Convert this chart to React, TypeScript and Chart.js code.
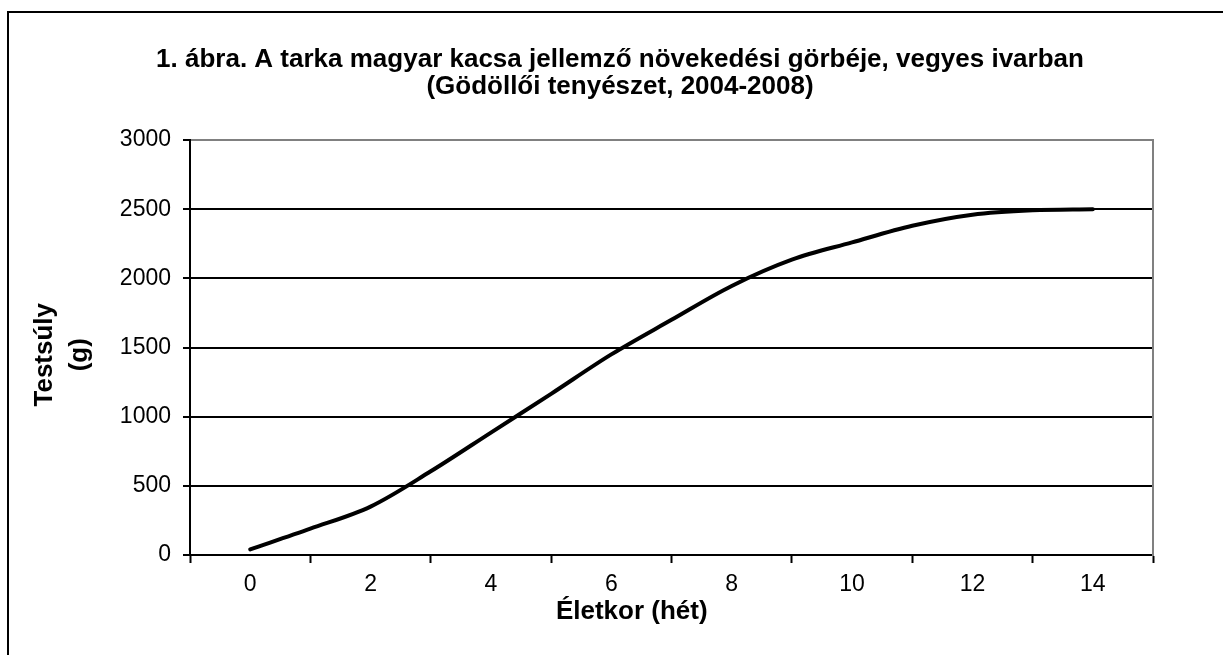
import React, { useEffect, useRef } from 'react';
import { Chart, registerables } from 'chart.js';

Chart.register(...registerables);

// ---- Data ----
const TITLE_LINES = [
  '1. ábra. A tarka magyar kacsa jellemző növekedési görbéje, vegyes ivarban',
  '(Gödöllői tenyészet, 2004-2008)',
];
const X_TITLE = 'Életkor (hét)';
const Y_TITLE = ['Testsúly', '(g)'];

const WEEKS = [0, 1, 2, 3, 4, 5, 6, 7, 8, 9, 10, 11, 12, 13, 14];
const WEIGHTS = [40, 190, 350, 605, 885, 1165, 1450, 1700, 1945, 2135, 2260, 2380, 2460, 2492, 2500];

const X_MIN = -1;
const X_MAX = 15;
const X_LABEL_VALUES = [0, 2, 4, 6, 8, 10, 12, 14];
const X_TICK_MARK_VALUES = [-1, 1, 3, 5, 7, 9, 11, 13, 15];

const Y_MIN = 0;
const Y_MAX = 3000;
const Y_STEP = 500;

const FONT_FAMILY = "'Liberation Sans', Arial, Helvetica, sans-serif";

const framePlugin = {
  id: 'outerFrame',
  beforeDraw(chart: any) {
    const ctx = chart.ctx;
    ctx.save();
    ctx.strokeStyle = '#000';
    ctx.lineWidth = 2;
    ctx.strokeRect(8, 12, 3000, 3000);
    ctx.restore();
  },
};

export default function App() {
  const canvasRef = useRef<HTMLCanvasElement | null>(null);

  useEffect(() => {
    if (!canvasRef.current) return;
    const chart = new Chart(canvasRef.current, {
      type: 'line',
      data: {
        datasets: [
          {
            label: 'Testsúly',
            data: WEEKS.map((w, i) => ({ x: w, y: WEIGHTS[i] })),
            borderColor: '#000',
            backgroundColor: '#000',
            borderWidth: 4,
            pointRadius: 0,
            tension: 0.33,
            fill: false,
            borderCapStyle: 'round',
            borderJoinStyle: 'round',
            xAxisID: 'x',
            yAxisID: 'y',
          },
        ],
      },
      options: {
        responsive: false,
        animation: false,
        devicePixelRatio: 1,
        layout: { padding: { left: 8, right: 8, top: 10, bottom: 5 } },
        plugins: {
          legend: { display: false },
          tooltip: { enabled: false },
          title: {
            display: true,
            text: TITLE_LINES,
            color: '#000',
            font: { family: FONT_FAMILY, size: 26, weight: 'bold', lineHeight: '27.5px' },
            padding: { top: 36, bottom: 39 },
          },
        },
        scales: {
          x: {
            type: 'linear',
            position: 'bottom',
            min: X_MIN,
            max: X_MAX,
            ticks: {
              stepSize: 1,
              maxTicksLimit: 100,
              autoSkip: false,
              maxRotation: 0,
              minRotation: 0,
              color: '#000',
              padding: 8,
              font: { family: FONT_FAMILY, size: 23 },
              callback: (v: any) => (X_LABEL_VALUES.includes(Number(v)) ? String(v) : ''),
            },
            grid: {
              drawOnChartArea: false,
              drawTicks: true,
              tickLength: 8,
              tickWidth: 2,
              tickColor: (ctx: any) =>
                ctx.tick && X_TICK_MARK_VALUES.includes(ctx.tick.value) ? '#000' : 'rgba(0,0,0,0)',
            },
            border: { display: true, color: '#000', width: 2 },
            title: {
              display: true,
              text: X_TITLE + '           ',
              color: '#000',
              font: { family: FONT_FAMILY, size: 26, weight: 'bold', lineHeight: 1.2 },
              padding: { top: 0, bottom: 23 },
            },
            afterFit: (s: any) => {
              s.height = 95;
            },
          },
          y: {
            type: 'linear',
            position: 'left',
            min: Y_MIN,
            max: Y_MAX,
            ticks: {
              stepSize: Y_STEP,
              color: '#000',
              padding: 12,
              font: { family: FONT_FAMILY, size: 23 },
              callback: (v: any) => String(v),
            },
            grid: {
              color: (ctx: any) => (ctx.tick && ctx.tick.value === Y_MAX ? '#808080' : '#000'),
              lineWidth: 2,
              drawTicks: true,
              tickLength: 7,
              tickWidth: 2,
              tickColor: '#000',
            },
            border: { display: true, color: '#000', width: 2 },
            title: {
              display: true,
              text: Y_TITLE.map((t) => t + '  '),
              color: '#000',
              font: { family: FONT_FAMILY, size: 26, weight: 'bold', lineHeight: '35px' },
              padding: { top: 19.5, bottom: 0 },
            },
            afterFit: (s: any) => {
              s.width = 182;
            },
          },
          yR: {
            type: 'linear',
            position: 'right',
            min: Y_MIN,
            max: Y_MAX,
            ticks: { display: false },
            grid: { display: false, drawOnChartArea: false },
            border: { display: true, color: '#808080', width: 2 },
            afterFit: (s: any) => {
              s.width = 79;
            },
          },
        },
      },
      plugins: [framePlugin],
    } as any);
    return () => chart.destroy();
  }, []);

  return (
    <div
      style={{
        position: 'absolute',
        left: 0,
        top: 0,
        width: 1223,
        height: 655,
        overflow: 'hidden',
        background: '#fff',
      }}
    >
      <canvas ref={canvasRef} width={1240} height={655} style={{ display: 'block' }} />
    </div>
  );
}
